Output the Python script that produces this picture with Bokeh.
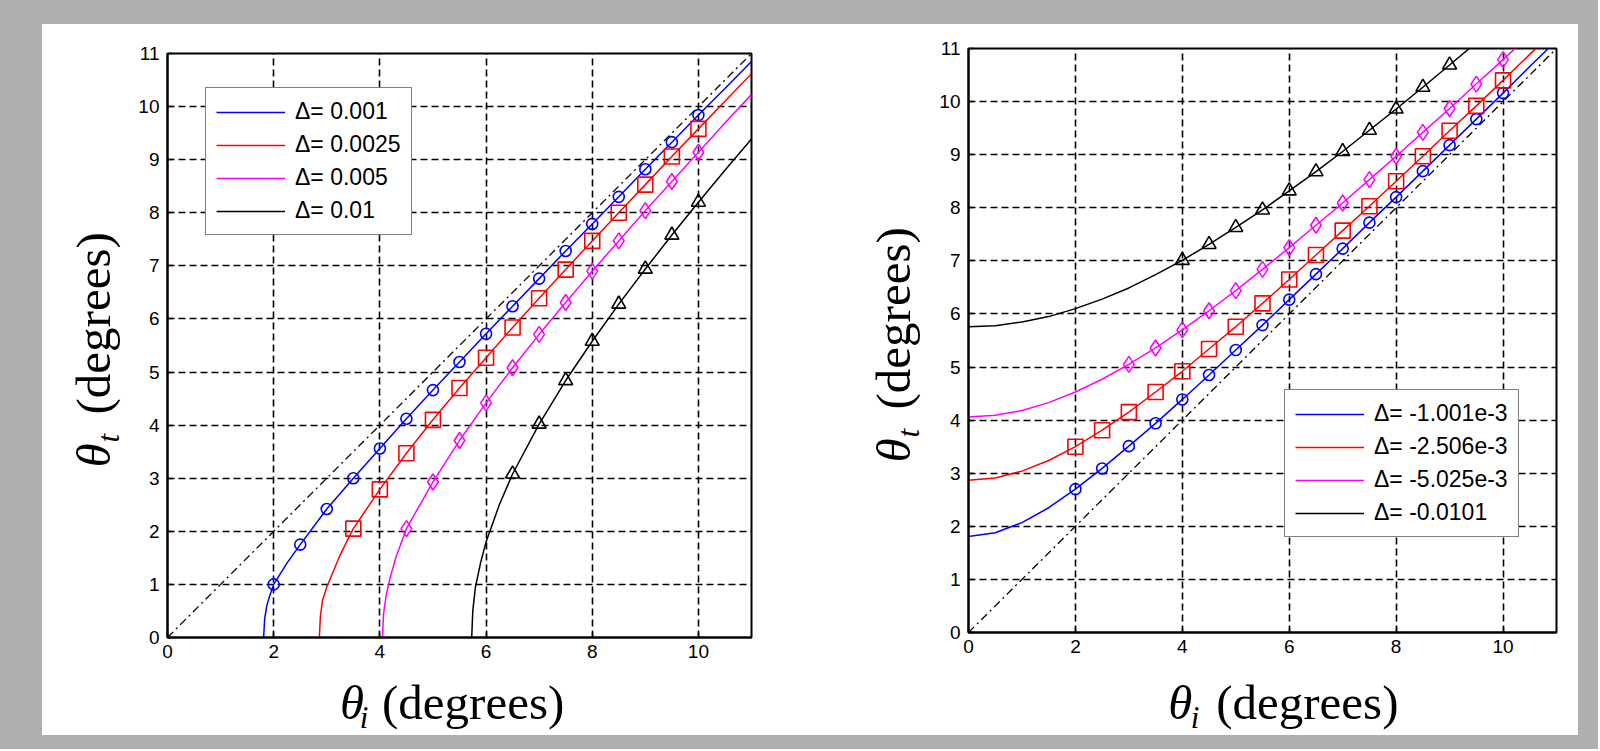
import math
from bokeh.plotting import figure
from bokeh.models import Range1d, FixedTicker, Legend, LegendItem, Spacer
from bokeh.layouts import row, column
from bokeh.embed import file_html
from bokeh.resources import INLINE
from bokeh.core.properties import value

# ---------------- data ----------------
# Left panel: Delta > 0
L_labels = ["\u0394= 0.001", "\u0394= 0.0025", "\u0394= 0.005", "\u0394= 0.01"]

L_blue_x = [1.81, 1.83, 1.87, 1.93, 2.0, 2.25, 2.5, 3, 3.5, 4, 4.5, 5, 5.5, 6, 6.5, 7, 7.5, 8, 8.5, 9, 9.5, 10, 10.5, 11]
L_blue_y = [0, 0.35, 0.6, 0.8, 1.0, 1.4, 1.75, 2.42, 3.0, 3.56, 4.12, 4.66, 5.19, 5.72, 6.24, 6.76, 7.28, 7.79, 8.3, 8.82, 9.33, 9.84, 10.34, 10.85]
L_red_x = [2.86, 2.88, 2.92, 3.0, 3.25, 3.5, 4, 4.5, 5, 5.5, 6, 6.5, 7, 7.5, 8, 8.5, 9, 9.5, 10, 10.5, 11]
L_red_y = [0, 0.4, 0.7, 0.95, 1.55, 2.05, 2.79, 3.47, 4.1, 4.7, 5.27, 5.84, 6.39, 6.93, 7.47, 8.0, 8.53, 9.06, 9.58, 10.1, 10.62]
L_mag_x = [4.05, 4.07, 4.12, 4.2, 4.3, 4.5, 5, 5.5, 6, 6.5, 7, 7.5, 8, 8.5, 9, 9.5, 10, 10.5, 11]
L_mag_y = [0, 0.45, 0.8, 1.15, 1.5, 2.05, 2.93, 3.71, 4.42, 5.08, 5.71, 6.31, 6.9, 7.47, 8.04, 8.59, 9.14, 9.69, 10.23]
L_blk_x = [5.73, 5.75, 5.8, 5.9, 6.0, 6.25, 6.5, 7, 7.5, 8, 8.5, 9, 9.5, 10, 10.5, 11]
L_blk_y = [0, 0.5, 0.95, 1.42, 1.8, 2.5, 3.08, 4.02, 4.84, 5.58, 6.28, 6.94, 7.58, 8.2, 8.8, 9.39]

L_blue_mx = [2, 2.5, 3, 3.5, 4, 4.5, 5, 5.5, 6, 6.5, 7, 7.5, 8, 8.5, 9, 9.5, 10]
L_blue_my = [1.0, 1.75, 2.42, 3.0, 3.56, 4.12, 4.66, 5.19, 5.72, 6.24, 6.76, 7.28, 7.79, 8.3, 8.82, 9.33, 9.84]
L_red_mx = [3.5, 4, 4.5, 5, 5.5, 6, 6.5, 7, 7.5, 8, 8.5, 9, 9.5, 10]
L_red_my = [2.05, 2.79, 3.47, 4.1, 4.7, 5.27, 5.84, 6.39, 6.93, 7.47, 8.0, 8.53, 9.06, 9.58]
L_mag_mx = [4.5, 5, 5.5, 6, 6.5, 7, 7.5, 8, 8.5, 9, 9.5, 10]
L_mag_my = [2.05, 2.93, 3.71, 4.42, 5.08, 5.71, 6.31, 6.9, 7.47, 8.04, 8.59, 9.14]
L_blk_mx = [6.5, 7, 7.5, 8, 8.5, 9, 9.5, 10]
L_blk_my = [3.08, 4.02, 4.84, 5.58, 6.28, 6.94, 7.58, 8.2]

# Right panel: Delta < 0
R_labels = ["\u0394= -1.001e-3", "\u0394= -2.506e-3", "\u0394= -5.025e-3", "\u0394= -0.0101"]

R_x = [0, 0.5, 1, 1.5, 2, 2.5, 3, 3.5, 4, 4.5, 5, 5.5, 6, 6.5, 7, 7.5, 8, 8.5, 9, 9.5, 10, 10.5, 11]
R_blue_y = [1.81, 1.88, 2.07, 2.35, 2.70, 3.09, 3.51, 3.94, 4.39, 4.85, 5.32, 5.79, 6.27, 6.75, 7.23, 7.72, 8.20, 8.69, 9.18, 9.67, 10.16, 10.66, 11.15]
R_red_y = [2.87, 2.91, 3.04, 3.24, 3.50, 3.81, 4.15, 4.53, 4.92, 5.34, 5.76, 6.20, 6.65, 7.11, 7.57, 8.03, 8.50, 8.97, 9.45, 9.92, 10.40, 10.89, 11.37]
R_mag_y = [4.06, 4.09, 4.18, 4.33, 4.53, 4.77, 5.05, 5.36, 5.70, 6.06, 6.44, 6.84, 7.25, 7.67, 8.09, 8.53, 8.97, 9.42, 9.87, 10.33, 10.79, 11.26, 11.73]
R_blk_y = [5.76, 5.78, 5.85, 5.95, 6.10, 6.28, 6.49, 6.74, 7.01, 7.31, 7.63, 7.96, 8.32, 8.68, 9.06, 9.46, 9.86, 10.27, 10.69, 11.11, 11.54, 11.98, 12.42]

R_blue_mx = [2, 2.5, 3, 3.5, 4, 4.5, 5, 5.5, 6, 6.5, 7, 7.5, 8, 8.5, 9, 9.5, 10]
R_blue_my = [2.70, 3.09, 3.51, 3.94, 4.39, 4.85, 5.32, 5.79, 6.27, 6.75, 7.23, 7.72, 8.20, 8.69, 9.18, 9.67, 10.16]
R_red_mx = [2, 2.5, 3, 3.5, 4, 4.5, 5, 5.5, 6, 6.5, 7, 7.5, 8, 8.5, 9, 9.5, 10]
R_red_my = [3.50, 3.81, 4.15, 4.53, 4.92, 5.34, 5.76, 6.20, 6.65, 7.11, 7.57, 8.03, 8.50, 8.97, 9.45, 9.92, 10.40]
R_mag_mx = [3, 3.5, 4, 4.5, 5, 5.5, 6, 6.5, 7, 7.5, 8, 8.5, 9, 9.5, 10]
R_mag_my = [5.05, 5.36, 5.70, 6.06, 6.44, 6.84, 7.25, 7.67, 8.09, 8.53, 8.97, 9.42, 9.87, 10.33, 10.79]
R_blk_mx = [4, 4.5, 5, 5.5, 6, 6.5, 7, 7.5, 8, 8.5, 9]
R_blk_my = [7.01, 7.31, 7.63, 7.96, 8.32, 8.68, 9.06, 9.46, 9.86, 10.27, 10.69]

diag_x = [0, 11]
diag_y = [0, 11]

x_ticks = [0, 2, 4, 6, 8, 10]
y_ticks = [0, 1, 2, 3, 4, 5, 6, 7, 8, 9, 10, 11]

# axis-label texts
lab_theta = "\u03b8"
lab_sub_x = "i"
lab_sub_y = "t"
lab_unit = "(degrees)"

# ---------------- styling ----------------
GRAY = "#afafaf"
BLUE, RED, MAG, BLK = "#0000ff", "#ff0000", "#ff00ff", "#000000"
SANS = "Liberation Sans"
SERIF = "Liberation Serif"
BIG = "49px"
SMALL = "31px"
PLOT_H = 651
XLAB_H = 60
TOTAL_H = PLOT_H + XLAB_H


def make_fig(width, b_left, b_right, b_top, b_bottom):
    p = figure(width=width, height=PLOT_H, output_backend="svg", toolbar_location=None,
               x_range=Range1d(0, 11), y_range=Range1d(0, 11),
               min_border_left=b_left, min_border_right=b_right,
               min_border_top=b_top, min_border_bottom=b_bottom,
               background_fill_color="white", border_fill_color="white",
               outline_line_color="black", outline_line_width=2)
    for ax in (p.xaxis[0], p.yaxis[0]):
        ax.major_tick_in = 5
        ax.major_tick_out = 0
        ax.minor_tick_line_color = None
        ax.axis_line_width = 2
        ax.major_tick_line_width = 1.5
        ax.major_label_text_font = SANS
        ax.major_label_text_font_size = "19px"
        ax.major_label_text_color = "black"
    p.xaxis[0].ticker = FixedTicker(ticks=x_ticks)
    p.yaxis[0].ticker = FixedTicker(ticks=y_ticks)
    p.xaxis[0].major_label_standoff = 7
    p.yaxis[0].major_label_standoff = 8
    for g in (p.xgrid[0], p.ygrid[0]):
        g.grid_line_color = "black"
        g.grid_line_dash = "7 4"
        g.grid_line_width = 1.6
        g.grid_line_alpha = 1.0
    p.xgrid[0].ticker = FixedTicker(ticks=x_ticks)
    p.ygrid[0].ticker = FixedTicker(ticks=y_ticks)
    p.line(diag_x, diag_y, line_color="black", line_width=1.3, line_dash="8 4 2 4")
    return p


def text_fig(width, height):
    t = figure(width=width, height=height, output_backend="svg", toolbar_location=None,
               x_range=Range1d(0, width), y_range=Range1d(0, height),
               min_border=0, min_border_left=0, min_border_right=0,
               min_border_top=0, min_border_bottom=0,
               background_fill_color="white", border_fill_color="white",
               outline_line_color=None)
    t.axis.visible = False
    t.grid.visible = False
    return t


def put(t, x, y, s, size, italic, angle=0.0):
    t.text(x=[x], y=[y], text=[s], angle=angle, text_font=value(SERIF),
           text_font_size=size, text_font_style="italic" if italic else "normal",
           text_baseline="middle", text_align="left", text_color="black")


def xlabel_fig(width, x0, mid):
    # mid: vertical middle of the big text, px from the bottom of this strip
    t = text_fig(width, XLAB_H)
    put(t, x0, mid, lab_theta, BIG, True)
    put(t, x0 + 25, mid - 15, lab_sub_x, SMALL, True)
    put(t, x0 + 53, mid, lab_unit, BIG, False)
    return t


def ylabel_fig(width, mid_x, y0):
    t = text_fig(width, TOTAL_H)
    a = math.pi / 2
    put(t, mid_x, y0, lab_theta, BIG, True, a)
    put(t, mid_x + 15, y0 + 25, lab_sub_y, SMALL, True, a)
    put(t, mid_x, y0 + 53, lab_unit, BIG, False, a)
    return t


def add_series(p, lines, markers, labels, loc):
    colors = [BLUE, RED, MAG, BLK]
    shapes = [("circle", 11), ("square", 15), ("diamond", 16), ("triangle", 14)]
    items = []
    for (lx, ly), (mx, my), c, (shape, sz), lab in zip(lines, markers, colors, shapes, labels):
        r = p.line(lx, ly, line_color=c, line_width=1.5)
        p.scatter(mx, my, marker=shape, size=sz, fill_color=None, line_color=c, line_width=1.6)
        items.append(LegendItem(label=lab, renderers=[r]))
    leg = Legend(items=items, location=loc, orientation="vertical",
                 border_line_color="black", border_line_width=1.6,
                 background_fill_color="white", background_fill_alpha=1.0,
                 label_text_font=SANS, label_text_font_size="23px", label_text_color="black",
                 glyph_width=69, glyph_height=20, label_height=20, label_standoff=10,
                 spacing=6, padding=10, margin=0)
    p.add_layout(leg, "center")


# ---------------- left block ----------------
p1 = make_fig(735, 42, 109, 29, 38)
add_series(p1,
           [(L_blue_x, L_blue_y), (L_red_x, L_red_y), (L_mag_x, L_mag_y), (L_blk_x, L_blk_y)],
           [(L_blue_mx, L_blue_my), (L_red_mx, L_red_my), (L_mag_mx, L_mag_my), (L_blk_mx, L_blk_my)],
           L_labels, (38, 402))
x1 = xlabel_fig(735, 217, 33)
y1 = ylabel_fig(83, 51, 268)

# ---------------- right block ----------------
p2 = make_fig(648, 38, 22, 24, 43)
add_series(p2,
           [(R_x, R_blue_y), (R_x, R_red_y), (R_x, R_mag_y), (R_x, R_blk_y)],
           [(R_blue_mx, R_blue_my), (R_red_mx, R_red_my), (R_mag_mx, R_mag_my), (R_blk_mx, R_blk_my)],
           R_labels, (316, 95))
x2 = xlabel_fig(648, 220, 33)
y2 = ylabel_fig(70, 33, 273)

# ---------------- page layout with gray frame ----------------
top = Spacer(width=1598, height=24, styles={"background-color": GRAY})
left_sp = Spacer(width=42, height=TOTAL_H, styles={"background-color": GRAY})
right_sp = Spacer(width=20, height=TOTAL_H, styles={"background-color": GRAY})
bottom = Spacer(width=1598, height=14, styles={"background-color": GRAY})
middle = row(left_sp, y1, column(p1, x1), y2, column(p2, x2), right_sp)
layout = column(top, middle, bottom)

open("out.html", "w").write(file_html(layout, INLINE))
